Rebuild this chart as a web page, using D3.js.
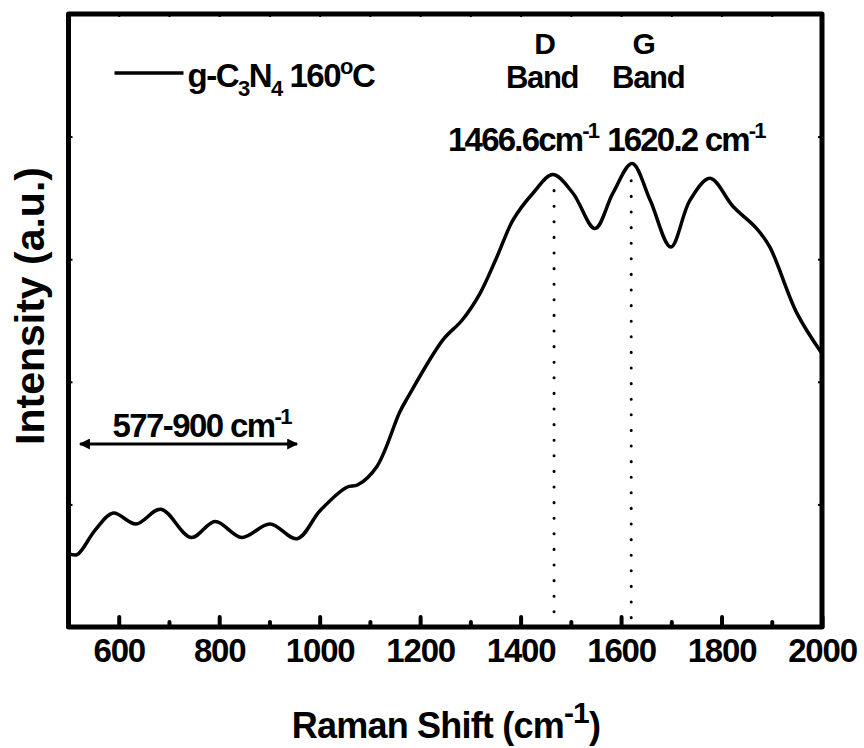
<!DOCTYPE html>
<html>
<head>
<meta charset="utf-8">
<script src="https://cdn.jsdelivr.net/npm/d3@7"></script>
<style>
  body { margin: 0; background: #fff; }
  text { font-family: 'Liberation Sans', Arial, sans-serif; font-weight: bold; fill: #000; }
</style>
</head>
<body>
<div id="chart"></div>
<script>
// Raman spectrum, g-C3N4 160 C
const shift = [500, 517, 553, 589, 634, 684, 744, 792, 845, 901, 955, 1001, 1054, 1076, 1114, 1159, 1175,
  1245, 1283, 1319, 1353, 1385, 1425, 1464, 1504, 1548, 1584, 1622, 1658, 1699, 1737, 1777, 1823, 1870,
  1896, 1950, 2000]
const intensity = [0.60, 0.59, 0.79, 0.93, 0.84, 0.96, 0.73, 0.86, 0.73, 0.84, 0.72, 0.95, 1.14, 1.16,
  1.31, 1.75, 1.87, 2.34, 2.50, 2.72, 3.02, 3.32, 3.54, 3.69, 3.54, 3.25, 3.54, 3.78, 3.48, 3.10, 3.48,
  3.66, 3.43, 3.25, 3.10, 2.56, 2.23]

const xTicks = [600, 800, 1000, 1200, 1400, 1600, 1800, 2000]
const xMinorTicks = [500, 700, 900, 1100, 1300, 1500, 1700, 1900]
const yTicks = [1, 2, 3, 4]

const bandPositions = [1466.6, 1620.2]
const bandTops = [3.56, 3.64]
const bandNames = ['D', 'G']
const bandLabels = ['1466.6', '1620.2']
const rangeLabel = [577, 900]
const rangeArrow = [523, 955]

const margin = { top: 14, right: 42, bottom: 121, left: 68.5 }
const width = 864 - margin.left - margin.right
const height = 748 - margin.top - margin.bottom

const svg = d3
  .select('#chart')
  .append('svg')
  .attr('width', 864)
  .attr('height', 748)

const defs = svg.append('defs')
defs.append('marker')
  .attr('id', 'head')
  .attr('viewBox', '0 0 10 10')
  .attr('refX', 9)
  .attr('refY', 5)
  .attr('markerUnits', 'userSpaceOnUse')
  .attr('markerWidth', 18)
  .attr('markerHeight', 11)
  .attr('orient', 'auto-start-reverse')
  .append('path')
  .attr('d', 'M0,0 L10,5 L0,10 Z')
  .attr('fill', '#000')

const g = svg.append('g')
  .attr('transform', `translate(${margin.left},${margin.top})`)

const x = d3.scaleLinear().domain([500, 2000]).range([0, width])
const y = d3.scaleLinear().domain([0, 5]).range([height, 0])

// bottom axis, ticks pointing inward
const xAxis = g.append('g')
  .attr('class', 'x-axis')
  .attr('transform', `translate(0,${height})`)
  .call(d3.axisBottom(x).tickValues(xTicks).tickSize(-10).tickPadding(12).tickFormat(d3.format('d')))
xAxis.select('.domain').remove()
xAxis.selectAll('.tick line').attr('stroke-width', 4).attr('stroke-linecap', 'round')
xAxis.selectAll('.tick text')
  .style('font-size', '33px')
  .style('font-family', "'Liberation Sans', Arial, sans-serif")
  .style('font-weight', 'bold')
  .attr('letter-spacing', '-1.2')

g.append('g')
  .attr('transform', `translate(0,${height})`)
  .call(d3.axisBottom(x).tickValues(xMinorTicks).tickSize(-5).tickFormat(''))
  .call(a => a.select('.domain').remove())
  .selectAll('.tick line').attr('stroke-width', 4).attr('stroke-linecap', 'round')

// small nubs on the other sides
g.append('g')
  .call(d3.axisTop(x).tickValues(xTicks.concat(xMinorTicks)).tickSize(-3).tickFormat(''))
  .call(a => a.select('.domain').remove())
  .selectAll('.tick line').attr('stroke-width', 2)

g.append('g')
  .call(d3.axisLeft(y).tickValues(yTicks).tickSize(-4).tickFormat(''))
  .call(a => a.select('.domain').remove())
  .selectAll('.tick line').attr('stroke-width', 2)

g.append('g')
  .attr('transform', `translate(${width},0)`)
  .call(d3.axisRight(y).tickValues(yTicks).tickSize(-4).tickFormat(''))
  .call(a => a.select('.domain').remove())
  .selectAll('.tick line').attr('stroke-width', 2)

// frame
g.append('rect')
  .attr('width', width)
  .attr('height', height)
  .attr('fill', 'none')
  .attr('stroke', '#000')
  .attr('stroke-width', 5)
  .attr('stroke-linejoin', 'round')

// dotted band markers
g.selectAll('.band-line')
  .data(bandPositions)
  .enter()
  .append('line')
  .attr('class', 'band-line')
  .attr('x1', d => x(d))
  .attr('x2', d => x(d))
  .attr('y1', (d, i) => y(bandTops[i]))
  .attr('y2', height - 6)
  .attr('stroke', '#000')
  .attr('stroke-width', 3)
  .attr('stroke-linecap', 'round')
  .attr('stroke-dasharray', '0.1 15.5')

// spectrum
const line = d3.line()
  .x(d => x(d[0]))
  .y(d => y(d[1]))
  .curve(d3.curveCatmullRom.alpha(0.5))

g.append('path')
  .datum(d3.zip(shift, intensity))
  .attr('d', line)
  .attr('fill', 'none')
  .attr('stroke', '#000')
  .attr('stroke-width', 3.5)
  .attr('stroke-linejoin', 'round')

// legend
g.append('line')
  .attr('x1', 46).attr('x2', 115)
  .attr('y1', 59).attr('y2', 59)
  .attr('stroke', '#000').attr('stroke-width', 3.5)

const legend = g.append('text')
  .attr('x', 119)
  .attr('y', 73)
  .style('font-size', '33px')
  .attr('letter-spacing', '-1.5')
legend.append('tspan').text('g-C')
legend.append('tspan').attr('dy', 9).style('font-size', '22px').text('3')
legend.append('tspan').attr('dy', -9).text('N')
legend.append('tspan').attr('dy', 9).style('font-size', '22px').text('4')
legend.append('tspan').attr('dy', -9).text(' 160')
legend.append('tspan').attr('dy', -13).style('font-size', '22px').text('o')
legend.append('tspan').attr('dy', 13).text('C')

// band labels, each line its own text
const nameOffsets = [-9, 13]
const bandOffsets = [-12, 17]
g.selectAll('.band-name')
  .data(bandNames)
  .enter()
  .append('text')
  .attr('class', 'band-name')
  .attr('text-anchor', 'middle')
  .attr('x', (d, i) => x(bandPositions[i]) + nameOffsets[i])
  .attr('y', 40)
  .style('font-size', '30px')
  .text(d => d)

g.selectAll('.band-word')
  .data(bandNames)
  .enter()
  .append('text')
  .attr('class', 'band-word')
  .attr('text-anchor', 'middle')
  .attr('x', (d, i) => x(bandPositions[i]) + bandOffsets[i])
  .attr('y', 74)
  .style('font-size', '31px')
  .attr('letter-spacing', '-1.3')
  .text('Band')

const peakText = g.selectAll('.peak-label')
  .data(bandLabels)
  .enter()
  .append('text')
  .attr('class', 'peak-label')
  .attr('x', (d, i) => x(bandPositions[i]) + (i === 0 ? -106 : -24))
  .attr('y', 137)
  .style('font-size', '33px')
  .attr('letter-spacing', '-1.8')
peakText.append('tspan').text(d => d + (d === '1466.6' ? 'cm' : ' cm'))
peakText.append('tspan').attr('dy', -13).style('font-size', '22px').text('-1')

// 577-900 range arrow
g.append('line')
  .attr('x1', x(rangeArrow[0]))
  .attr('x2', x(rangeArrow[1]))
  .attr('y1', 430)
  .attr('y2', 430)
  .attr('stroke', '#000')
  .attr('stroke-width', 3)
  .attr('marker-start', 'url(#head)')
  .attr('marker-end', 'url(#head)')

const rangeText = g.append('text')
  .attr('x', 44)
  .attr('y', 423)
  .style('font-size', '33px')
  .attr('letter-spacing', '-1.6')
rangeText.append('tspan').text(`${rangeLabel[0]}-${rangeLabel[1]} cm`)
rangeText.append('tspan').attr('dy', -13).style('font-size', '22px').text('-1')

// axis titles
const xTitle = svg.append('text')
  .attr('x', 446)
  .attr('y', 738)
  .attr('text-anchor', 'middle')
  .style('font-size', '36px')
  .attr('letter-spacing', '-0.8')
xTitle.append('tspan').text('Raman Shift (cm')
xTitle.append('tspan').attr('dy', -15).style('font-size', '30px').text('-1')
xTitle.append('tspan').attr('dy', 15).text(')')

svg.append('text')
  .attr('transform', 'translate(44,306) rotate(-90)')
  .attr('text-anchor', 'middle')
  .style('font-size', '41px')
  .attr('letter-spacing', '0')
  .text('Intensity (a.u.)')
</script>
</body>
</html>
